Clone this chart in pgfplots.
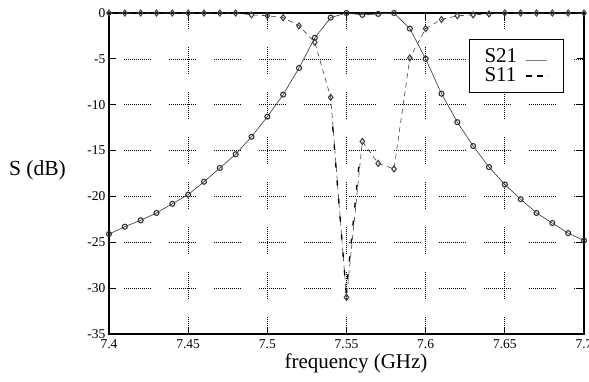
\documentclass[border=0pt]{standalone}
\usepackage{fontspec}
\setmainfont{Liberation Serif}
\usepackage{pgfplots}
\pgfplotsset{compat=1.18}
\tikzset{gridpat/.style={dash pattern=on 1pt off 1pt on 1pt off 1pt on 1pt off 1pt on 1pt off 1pt on 1pt off 1pt on 1pt off 1pt on 1pt off 1pt on 1pt off 1pt on 1pt off 1pt on 1pt off 1pt on 1pt off 1pt on 1pt off 1pt on 1pt off 1pt on 1pt off 18pt}}
\begin{document}
\begin{tikzpicture}
\path[use as bounding box] (-109pt,-47pt) rectangle (480pt,334pt);
\begin{axis}[
  scale only axis, width=475pt, height=321pt,
  at={(0,0)}, anchor=south west,
  xmin=7.4, xmax=7.7, ymin=-35, ymax=0,
  xtick={7.4,7.45,7.5,7.55,7.6,7.65,7.7},
  xticklabels={7.4,7.45,7.5,7.55,7.6,7.65,7.7},
  ytick={-35,-30,-25,-20,-15,-10,-5,0},
  tick align=inside, tick pos=both,
  major tick length=7pt,
  every tick/.style={black, line width=1pt},
  axis line style={line width=1.4pt},
  grid=major,
  x grid style={black, line width=0.7pt, gridpat, dash phase=10pt},
  y grid style={black, line width=0.7pt, gridpat, dash phase=30pt},
  tick label style={font=\fontsize{13.5}{13.5}\selectfont},
  xticklabel style={yshift=-2pt},
  /pgf/number format/assume math mode=true,
  clip=false,
  xlabel={frequency (GHz)},
  ylabel={S (dB)},
  every axis x label/.style={at={(axis description cs:0.52,-0.109)}, anchor=base, font=\fontsize{21}{21}\selectfont},
  every axis y label/.style={at={(axis description cs:-0.1505,0.495)}, anchor=base, font=\fontsize{21.5}{21.5}\selectfont},
  legend style={at={(axis description cs:0.758,0.919)}, anchor=north west, draw=black, line width=1pt, inner xsep=15pt, inner ysep=9pt, font=\fontsize{21}{19}\selectfont, row sep=4pt, column sep=8pt, nodes={inner sep=0pt}, cells={anchor=base west}},
  legend plot pos=right,
]
\addplot[black!80, line width=0.6pt, mark=o, mark size=2.5pt, mark options={solid, line width=1.1pt, fill=white}, forget plot] coordinates {
(7.40,-24.1) (7.41,-23.3) (7.42,-22.6) (7.43,-21.8) (7.44,-20.8) (7.45,-19.8)
(7.46,-18.4) (7.47,-16.9) (7.48,-15.4) (7.49,-13.5) (7.50,-11.3) (7.51,-8.9)
(7.52,-6.0) (7.53,-2.7) (7.54,-0.5) (7.55,0) (7.56,-0.2) (7.57,-0.1) (7.58,0)
(7.59,-1.7) (7.60,-5.0) (7.61,-8.8) (7.62,-11.9) (7.63,-14.5) (7.64,-16.8)
(7.65,-18.7) (7.66,-20.3) (7.67,-21.8) (7.68,-22.9) (7.69,-24.0) (7.70,-24.8)
};
\addplot[black!75, line width=0.6pt, dash pattern=on 5pt off 4pt, mark=diamond, mark size=3pt, mark options={solid, line width=1.1pt, fill=white}, forget plot] coordinates {
(7.40,0) (7.41,0) (7.42,0) (7.43,0) (7.44,0) (7.45,0)
(7.46,0) (7.47,0) (7.48,0) (7.49,-0.2) (7.50,-0.3) (7.51,-0.5)
(7.52,-1.4) (7.53,-3.2) (7.54,-9.2) (7.55,-31.0) (7.56,-14.0) (7.57,-16.4) (7.58,-17.0)
(7.59,-4.9) (7.60,-1.7) (7.61,-0.7) (7.62,-0.3) (7.63,-0.2) (7.64,-0.1)
(7.65,0) (7.66,0) (7.67,0) (7.68,0) (7.69,0) (7.70,0)
};
\addplot[black, line width=1.4pt, dash pattern=on 5pt off 13pt, forget plot] coordinates {
(7.5413,-12.4) (7.5498,-30.5) (7.5580,-16.4)
};
\addlegendimage{legend image code/.code={\draw[gray, line width=0.6pt] (0pt,2pt) -- (21pt,2pt);}}
\addlegendentry{S21}
\addlegendimage{legend image code/.code={\draw[black, line width=1.5pt, dash pattern=on 6pt off 5pt] (0pt,6pt) -- (22pt,6pt);}}
\addlegendentry{S11}
\end{axis}
\end{tikzpicture}
\end{document}
